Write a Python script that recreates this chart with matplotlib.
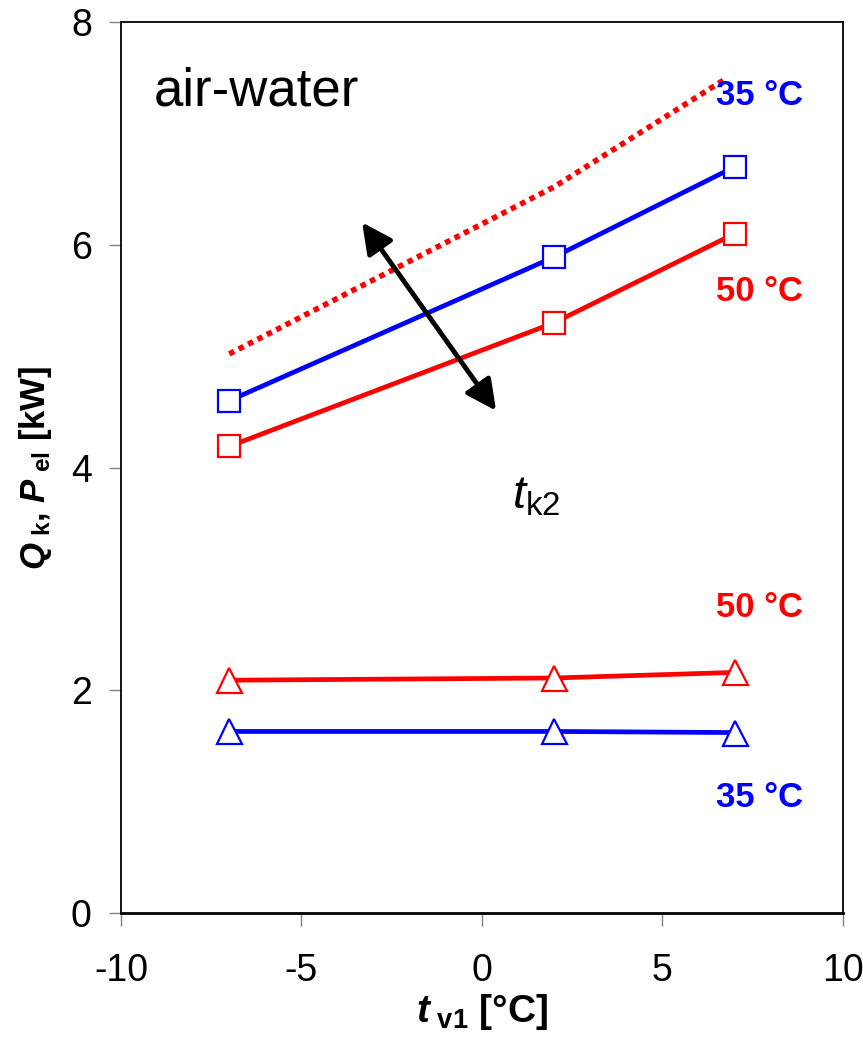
import numpy as np
import matplotlib
matplotlib.use('Agg')
import matplotlib.pyplot as plt

plt.rcParams['font.family'] = ['Liberation Sans', 'DejaVu Sans']
plt.rcParams['axes.unicode_minus'] = False
plt.rcParams['mathtext.fontset'] = 'custom'
plt.rcParams['mathtext.rm'] = 'Liberation Sans'
plt.rcParams['mathtext.it'] = 'Liberation Sans:italic'
plt.rcParams['mathtext.bf'] = 'Liberation Sans:bold'
plt.rcParams['mathtext.bfit'] = 'Liberation Sans:bold:italic'

# temperaturas exteriores
tv1 = [-7, 2, 7]

# potencia calorifica Qk (cuadrados)
qk_35 = [4.60, 5.89, 6.70]
qk_50 = [4.19, 5.30, 6.10]
# linea punteada
tv1_punt = [-7, 2, 6.7]
q_punt = [5.02, 6.52, 7.48]

# potencia electrica Pel (triangulos)
pel_50 = [2.09, 2.11, 2.16]
pel_35 = [1.63, 1.63, 1.62]

xticks = [-10, -5, 0, 5, 10]
yticks = [0, 2, 4, 6, 8]

fig = plt.figure(figsize=(8.63, 10.44), dpi=100)
ax = fig.add_axes([0.1402, 0.1255, 0.8366, 0.8534])

ms = 16
mew = 1.6
lw = 3.4
ax.plot(tv1_punt, q_punt, color='red', lw=4, linestyle=(0, (1, 0.9)))
ax.plot(tv1, qk_35, color='blue', lw=lw, marker='s', ms=ms, mfc='white', mec='blue', mew=mew)
ax.plot(tv1, qk_50, color='red', lw=lw, marker='s', ms=ms, mfc='white', mec='red', mew=mew)
ax.plot(tv1, pel_50, color='red', lw=lw, marker='^', ms=ms + 2, mfc='white', mec='red', mew=mew)
ax.plot(tv1, pel_35, color='blue', lw=lw, marker='^', ms=ms + 2, mfc='white', mec='blue', mew=mew)

# flecha doble tk2
ax.annotate('', xy=(-3.32, 6.20), xytext=(0.39, 4.51),
            arrowprops=dict(arrowstyle='<|-|>', color='black', lw=3.5,
                            mutation_scale=46, shrinkA=0, shrinkB=0))

ax.text(-9.1, 7.38, 'air-water', fontsize=38, ha='left', va='center')
ax.text(1.5, 3.74, r'$\mathit{t}_{\mathrm{k2}}$', fontsize=34, ha='center', va='center')
ax.text(7.7, 7.34, '35 °C', color='blue', fontsize=25, fontweight='bold', ha='center', va='center')
ax.text(7.7, 5.58, '50 °C', color='red', fontsize=25, fontweight='bold', ha='center', va='center')
ax.text(7.7, 2.74, '50 °C', color='red', fontsize=25, fontweight='bold', ha='center', va='center')
ax.text(7.7, 1.04, '35 °C', color='blue', fontsize=25, fontweight='bold', ha='center', va='center')

ax.set_xlim(-10, 10)
ax.set_ylim(0, 8)
ax.set_xticks(xticks)
ax.set_yticks(yticks)
ax.tick_params(axis='both', direction='out', length=9, width=1, color='#808080', labelsize=27)
ax.tick_params(axis='x', pad=20)
ax.tick_params(axis='y', pad=12)

for s in ['left', 'right', 'top']:
    ax.spines[s].set_linewidth(1.3)
ax.spines['bottom'].set_linewidth(2)

ax.set_xlabel(r'$\mathbfit{t}_{\mathbf{\ v1}}$ [°C]', fontsize=28, fontweight='bold', labelpad=2)
ax.set_ylabel(r'$\mathbfit{Q}_{\mathbf{\ k}}$, $\mathbfit{P}_{\mathbf{\ el}}$ [kW]', fontsize=25,
              fontweight='bold', labelpad=12)

plt.savefig('out.png', dpi=100)
